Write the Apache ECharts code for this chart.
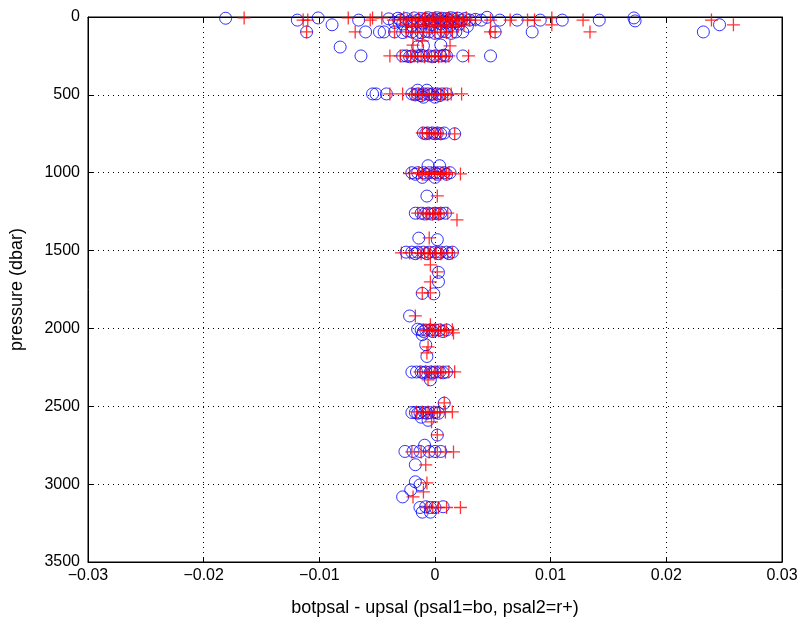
<!DOCTYPE html>
<html>
<head>
<meta charset="utf-8">
<script src="https://cdn.jsdelivr.net/npm/echarts@6/dist/echarts.min.js"></script>
<style>
  html, body { margin: 0; padding: 0; background: #fff; }
  #chart { width: 801px; height: 625px; }
</style>
</head>
<body>
<div id="chart"></div>
<script>
// psal1 (blue circles): [botpsal - upsal, pressure]
const psal1 = [
  [-0.0181, 8], [-0.0119, 20], [-0.0101, 6], [-0.0089, 50], [-0.0066, 20],
  [-0.0040, 12], [-0.0032, 8], [-0.0030, 20], [-0.0025, 10], [-0.0022, 30],
  [-0.0018, 6], [-0.0015, 20], [-0.0012, 10], [-0.0010, 40], [-0.0008, 15],
  [-0.0006, 5], [-0.0004, 25], [-0.0002, 10], [0, 20], [0.0002, 5],
  [0.0004, 15], [0.0006, 8], [0.0008, 25], [0.0010, 10], [0.0012, 20],
  [0.0014, 5], [0.0016, 12], [0.0018, 30], [0.0020, 8], [0.0023, 20],
  [0.0026, 10], [0.0030, 20], [0.0035, 15], [0.0040, 20], [0.0045, 2],
  [-0.0028, 45], [-0.0020, 55], [-0.0012, 60], [-0.0003, 50], [0.0005, 45],
  [0.0013, 55], [0.0021, 45], [0.0028, 60], [-0.0035, 35], [0.0010, 35],
  [0.0056, 20], [0.0071, 20], [0.0091, 20], [0.0110, 20], [0.0142, 20],
  [0.0172, 6], [0.0173, 25], [0.0246, 50],
  [-0.0111, 96], [-0.0060, 96], [-0.0048, 96], [-0.0044, 96], [-0.0035, 96],
  [-0.0028, 100], [-0.0020, 96], [-0.0012, 100], [-0.0005, 96], [0.0003, 100],
  [0.0010, 96], [0.0018, 96], [0.0024, 96], [0.0052, 96], [0.0084, 96], [0.0232, 96],
  [-0.0024, 90], [-0.0016, 105], [-0.0008, 92], [0, 105], [0.0007, 92], [0.0014, 105],
  [-0.0082, 193], [-0.0015, 190], [-0.0010, 185], [0.0005, 180],
  [-0.0064, 250], [-0.0028, 250], [-0.0025, 250], [-0.0020, 250], [-0.0015, 250],
  [-0.0010, 250], [-0.0005, 250], [0, 250], [0.0005, 250], [0.0010, 250],
  [0.0024, 250], [0.0048, 250], [-0.0022, 255], [-0.0012, 245], [-0.0002, 255], [0.0008, 245],
  [-0.0054, 494], [-0.0051, 494], [-0.0042, 494], [-0.0020, 494], [-0.0015, 494],
  [-0.0010, 494], [-0.0006, 494], [-0.0002, 494], [0.0002, 494], [0.0006, 494],
  [0.0010, 494], [-0.0015, 470], [-0.0007, 470], [-0.0010, 515], [0, 515],
  [-0.0017, 500], [-0.0012, 505], [-0.0004, 500], [0.0004, 505],
  [-0.0010, 745], [-0.0006, 745], [-0.0002, 745], [0.0002, 745], [0.0008, 745], [0.0017, 750],
  [-0.0008, 750], [0, 750], [0.0005, 750],
  [-0.0020, 1000], [-0.0015, 1000], [-0.0010, 1000], [-0.0005, 1000], [0, 1000],
  [0.0004, 1000], [0.0008, 1000], [0.0013, 1000], [-0.0006, 955], [0.0004, 955],
  [-0.0011, 1030], [0, 1030], [-0.0017, 1010], [-0.0008, 1010], [0.0002, 1010], [0.0010, 1010],
  [-0.0007, 1150],
  [-0.0017, 1260], [-0.0012, 1260], [-0.0006, 1260], [0, 1260], [0.0005, 1260], [0.0009, 1260],
  [-0.0009, 1265], [-0.0003, 1265], [0.0003, 1265],
  [-0.0014, 1420], [0.0002, 1430],
  [-0.0025, 1510], [-0.0020, 1510], [-0.0015, 1510], [-0.0010, 1510], [-0.0005, 1510],
  [0, 1510], [0.0005, 1510], [0.0010, 1510], [0.0015, 1510], [-0.0017, 1520],
  [-0.0007, 1520], [0.0003, 1520], [0.0012, 1520], [0.0003, 1640],
  [0.0003, 1700], [-0.0011, 1775], [-0.0001, 1778],
  [-0.0022, 1920],
  [-0.0015, 2005], [-0.0012, 2010], [-0.0008, 2010], [-0.0004, 2010], [0, 2010],
  [0.0004, 2010], [0.0010, 2010], [-0.0010, 2020], [-0.0002, 2020], [0.0007, 2020],
  [-0.0011, 2040], [-0.0008, 2105], [-0.0007, 2180],
  [-0.0020, 2280], [-0.0016, 2280], [-0.0012, 2280], [-0.0008, 2280], [-0.0004, 2280],
  [0, 2280], [0.0004, 2280], [0.0010, 2280], [-0.0010, 2285], [-0.0002, 2285],
  [0.0007, 2285], [-0.0004, 2330],
  [0.0008, 2480],
  [-0.0020, 2540], [-0.0017, 2540], [-0.0013, 2540], [-0.0009, 2540], [-0.0005, 2540],
  [0, 2540], [-0.0015, 2545], [-0.0007, 2545], [0.0003, 2545],
  [-0.0012, 2570], [-0.0006, 2590],
  [0.0002, 2685],
  [-0.0026, 2790], [-0.0019, 2790], [-0.0009, 2750], [-0.0005, 2790], [0, 2790],
  [0.0005, 2790], [-0.0013, 2790], [-0.0017, 2875],
  [-0.0017, 2985], [-0.0013, 3005], [-0.0021, 3037], [-0.0028, 3082],
  [-0.0013, 3150], [-0.0008, 3145], [-0.0004, 3150], [0, 3150], [0.0007, 3145],
  [-0.0011, 3180], [-0.0004, 3180]
];

// psal2 (red pluses): [botpsal - upsal, pressure]
const psal2 = [
  [-0.0165, 6], [-0.0114, 20], [-0.0110, 20], [-0.0075, 6], [-0.0056, 20],
  [-0.0054, 6], [-0.0046, 6], [-0.0036, 20],
  [-0.0030, 15], [-0.0027, 5], [-0.0024, 20], [-0.0020, 10], [-0.0017, 25],
  [-0.0014, 8], [-0.0011, 18], [-0.0008, 5], [-0.0005, 22], [-0.0002, 12],
  [0, 3], [0.0002, 18], [0.0005, 8], [0.0007, 25], [0.0010, 12], [0.0012, 4],
  [0.0015, 20], [0.0018, 10], [0.0021, 25], [0.0024, 15], [0.0027, 5], [0.0030, 20],
  [-0.0009, 10], [-0.0003, 28], [0.0004, 14], [0.0013, 28], [0.0019, 6],
  [0.0035, 20], [0.0048, 20], [0.0065, 20], [0.0080, 20], [0.0086, 20],
  [0.0101, 6], [0.0101, 50], [0.0128, 20], [0.0239, 20], [0.0258, 50],
  [-0.0025, 50], [-0.0015, 50], [-0.0005, 50], [0.0005, 50], [0.0015, 50], [0.0025, 50],
  [-0.0020, 60], [-0.0010, 60], [0, 60], [0.0010, 60], [0.0020, 60],
  [-0.0111, 96], [-0.0069, 96], [-0.0035, 96], [-0.0025, 96], [-0.0015, 96],
  [-0.0005, 96], [0.0005, 96], [0.0015, 96], [0.0048, 96], [0.0052, 96], [0.0134, 96],
  [-0.0020, 100], [-0.0010, 100], [0, 100], [0.0010, 100],
  [-0.0011, 154], [-0.0019, 180], [0.0013, 186],
  [-0.0039, 250], [-0.0030, 250], [-0.0024, 250], [-0.0018, 250], [-0.0012, 250],
  [-0.0006, 250], [0, 250], [0.0006, 250], [0.0012, 250], [0.0029, 250],
  [-0.0021, 255], [-0.0015, 255], [-0.0009, 255], [-0.0003, 255], [0.0003, 255], [0.0009, 255],
  [-0.0039, 494], [-0.0028, 494], [-0.0020, 494], [-0.0014, 494], [-0.0008, 494],
  [-0.0003, 494], [0.0002, 494], [0.0008, 494], [0.0014, 494], [0.0023, 494],
  [-0.0017, 500], [-0.0011, 500], [-0.0005, 500], [0, 500], [0.0005, 500], [0.0011, 500],
  [-0.0011, 745], [-0.0007, 745], [-0.0003, 745], [0.0002, 745], [0.0017, 750],
  [-0.0005, 750], [0, 750], [0.0005, 750],
  [-0.0022, 1005], [-0.0014, 1000], [-0.0008, 1000], [-0.0003, 1000], [0.0002, 1000],
  [0.0007, 1000], [0.0012, 1000], [0.0022, 1008], [-0.0011, 1010], [-0.0005, 1010],
  [0, 1010], [0.0005, 1010], [0.0010, 1010], [0.0002, 1149],
  [-0.0015, 1260], [-0.0010, 1260], [-0.0005, 1260], [0, 1260], [0.0005, 1260],
  [0.0011, 1260], [-0.0007, 1265], [-0.0002, 1265], [0.0003, 1265], [0.0019, 1303],
  [-0.0005, 1419],
  [-0.0029, 1515], [-0.0022, 1515], [-0.0015, 1515], [-0.0009, 1515], [-0.0004, 1515],
  [0.0001, 1515], [0.0006, 1515], [0.0011, 1515], [0.0015, 1515], [-0.0012, 1520],
  [-0.0006, 1520], [0, 1520], [0.0005, 1520],
  [-0.0004, 1592], [0.0002, 1637], [-0.0004, 1701], [-0.0011, 1772], [-0.0004, 1772],
  [-0.0017, 1920], [-0.0004, 1977],
  [-0.0010, 2009], [-0.0005, 2009], [0, 2009], [0.0005, 2009], [0.0010, 2009],
  [0.0015, 2009], [-0.0007, 2015], [-0.0002, 2015], [0.0003, 2015], [0.0008, 2015],
  [0.0016, 2029], [-0.0006, 2119], [-0.0007, 2157],
  [-0.0013, 2279], [-0.0008, 2279], [-0.0003, 2279], [0.0002, 2279], [0.0007, 2279],
  [0.0012, 2279], [0.0017, 2279], [-0.0005, 2285], [0, 2285], [0.0005, 2285],
  [-0.0006, 2330],
  [0.0008, 2478],
  [-0.0016, 2536], [-0.0011, 2536], [-0.0006, 2536], [-0.0001, 2536], [0.0004, 2536],
  [0.0009, 2536], [0.0015, 2536], [-0.0008, 2542], [-0.0003, 2542], [0.0002, 2542],
  [-0.0003, 2600],
  [0.0002, 2684],
  [-0.0020, 2793], [-0.0012, 2793], [-0.0005, 2793], [0.0002, 2793], [0.0009, 2793],
  [0.0016, 2793], [-0.0008, 2876],
  [-0.0007, 2992], [-0.0010, 3050], [-0.0019, 3082],
  [-0.0007, 3150], [-0.0002, 3150], [0.0003, 3150], [0.0010, 3150], [0.0022, 3150]
];

const xTicks = [-0.03, -0.02, -0.01, 0, 0.01, 0.02, 0.03];
const yTicks = [0, 500, 1000, 1500, 2000, 2500, 3000, 3500];

const chart = echarts.init(document.getElementById('chart'));
const font = 'Liberation Sans, Arial, Helvetica, sans-serif';
const plusPath = 'path://M0,5 L10,5 M5,0 L5,10';
const dotted = { show: true, lineStyle: { type: [1, 4], color: '#000', width: 1 } };
const innerTick = { show: true, inside: true, length: 5, lineStyle: { color: '#000' } };
const xMin = xTicks[0], xMax = xTicks[xTicks.length - 1];
const yMin = yTicks[0], yMax = yTicks[yTicks.length - 1];

chart.setOption({
  animation: false,
  backgroundColor: '#fff',
  grid: {
    left: 88, right: 19, top: 17, bottom: 63,
    show: true, borderColor: '#000', borderWidth: 1, backgroundColor: '#fff'
  },
  xAxis: [
    {
      type: 'value', position: 'bottom',
      min: xMin, max: xMax, interval: 0.01,
      name: 'botpsal - upsal (psal1=bo, psal2=r+)',
      nameLocation: 'middle', nameGap: 37,
      nameTextStyle: { fontFamily: font, fontSize: 18, color: '#000' },
      axisLine: { show: true, onZero: false, lineStyle: { color: '#000' } },
      axisTick: innerTick,
      axisLabel: {
        fontFamily: font, fontSize: 16, color: '#000', margin: 6,
        formatter: v => {
          const r = Math.round(v * 100) / 100;
          return (r < 0 ? '\u2212' : '') + String(Math.abs(r));
        }
      },
      splitLine: dotted
    },
    {
      type: 'value', position: 'top',
      min: xMin, max: xMax, interval: 0.01,
      axisLine: { show: true, onZero: false, lineStyle: { color: '#000' } },
      axisTick: innerTick, axisLabel: { show: false }, splitLine: { show: false }
    }
  ],
  yAxis: [
    {
      type: 'value', inverse: true, position: 'left',
      min: yMin, max: yMax, interval: 500,
      name: 'pressure (dbar)',
      nameLocation: 'middle', nameGap: 62,
      nameTextStyle: { fontFamily: font, fontSize: 18, color: '#000' },
      axisLine: { show: true, onZero: false, lineStyle: { color: '#000' } },
      axisTick: innerTick,
      axisLabel: { fontFamily: font, fontSize: 16, color: '#000', margin: 8, formatter: v => String(v) },
      splitLine: dotted
    },
    {
      type: 'value', inverse: true, position: 'right',
      min: yMin, max: yMax, interval: 500,
      axisLine: { show: true, onZero: false, lineStyle: { color: '#000' } },
      axisTick: innerTick, axisLabel: { show: false }, splitLine: { show: false }
    }
  ],
  series: [
    {
      name: 'psal1', type: 'scatter', data: psal1,
      symbol: 'circle', symbolSize: 12,
      itemStyle: { color: 'rgba(0,0,0,0)', borderColor: '#0000ff', borderWidth: 1 }
    },
    {
      name: 'psal2', type: 'scatter', data: psal2,
      symbol: plusPath, symbolSize: 13,
      itemStyle: { color: 'rgba(0,0,0,0)', borderColor: '#ff0000', borderWidth: 1.3 }
    }
  ]
});
</script>
</body>
</html>
